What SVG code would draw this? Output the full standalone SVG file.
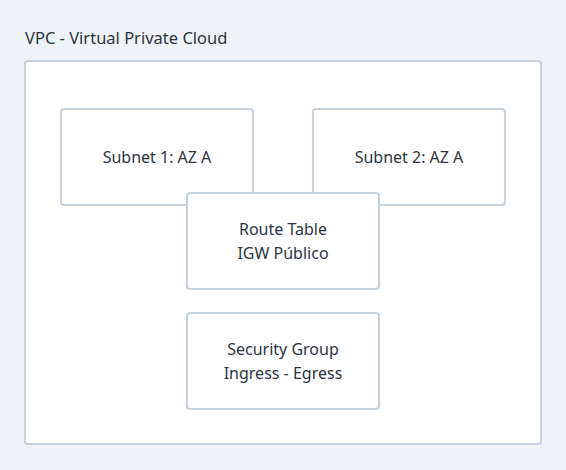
<svg xmlns="http://www.w3.org/2000/svg" width="566" height="470" viewBox="0 0 566 470">
<style>
.box{fill:#ffffff;stroke:#c5d0da;stroke-width:2}
.t{font-family:"Noto Sans","Open Sans",sans-serif;font-size:16px;fill:#2d3440;text-anchor:middle;dominant-baseline:central}
.title{font-family:"Noto Sans","Open Sans",sans-serif;font-size:16.5px;fill:#2d3440}
</style>
<rect x="0" y="0" width="566" height="470" fill="#eff3f7"/>
<text class="title" x="25" y="44">VPC - Virtual Private Cloud</text>
<g id="vpc"><rect class="box" x="25" y="61" width="516" height="383" rx="3"/></g>
<g id="connectors"></g>
<g id="subnet1"><rect class="box" x="61" y="109" width="192" height="96" rx="3"/><text class="t" x="157" y="157">Subnet 1: AZ A</text></g>
<g id="subnet2"><rect class="box" x="313" y="109" width="192" height="96" rx="3"/><text class="t" x="409" y="157">Subnet 2: AZ A</text></g>
<g id="routetable"><rect class="box" x="187" y="193" width="192" height="96" rx="3"/><text class="t" x="283" y="229">Route Table</text><text class="t" x="283" y="253">IGW Público</text></g>
<g id="securitygroup"><rect class="box" x="187" y="313" width="192" height="96" rx="3"/><text class="t" x="283" y="349">Security Group</text><text class="t" x="283" y="373">Ingress - Egress</text></g>
</svg>
